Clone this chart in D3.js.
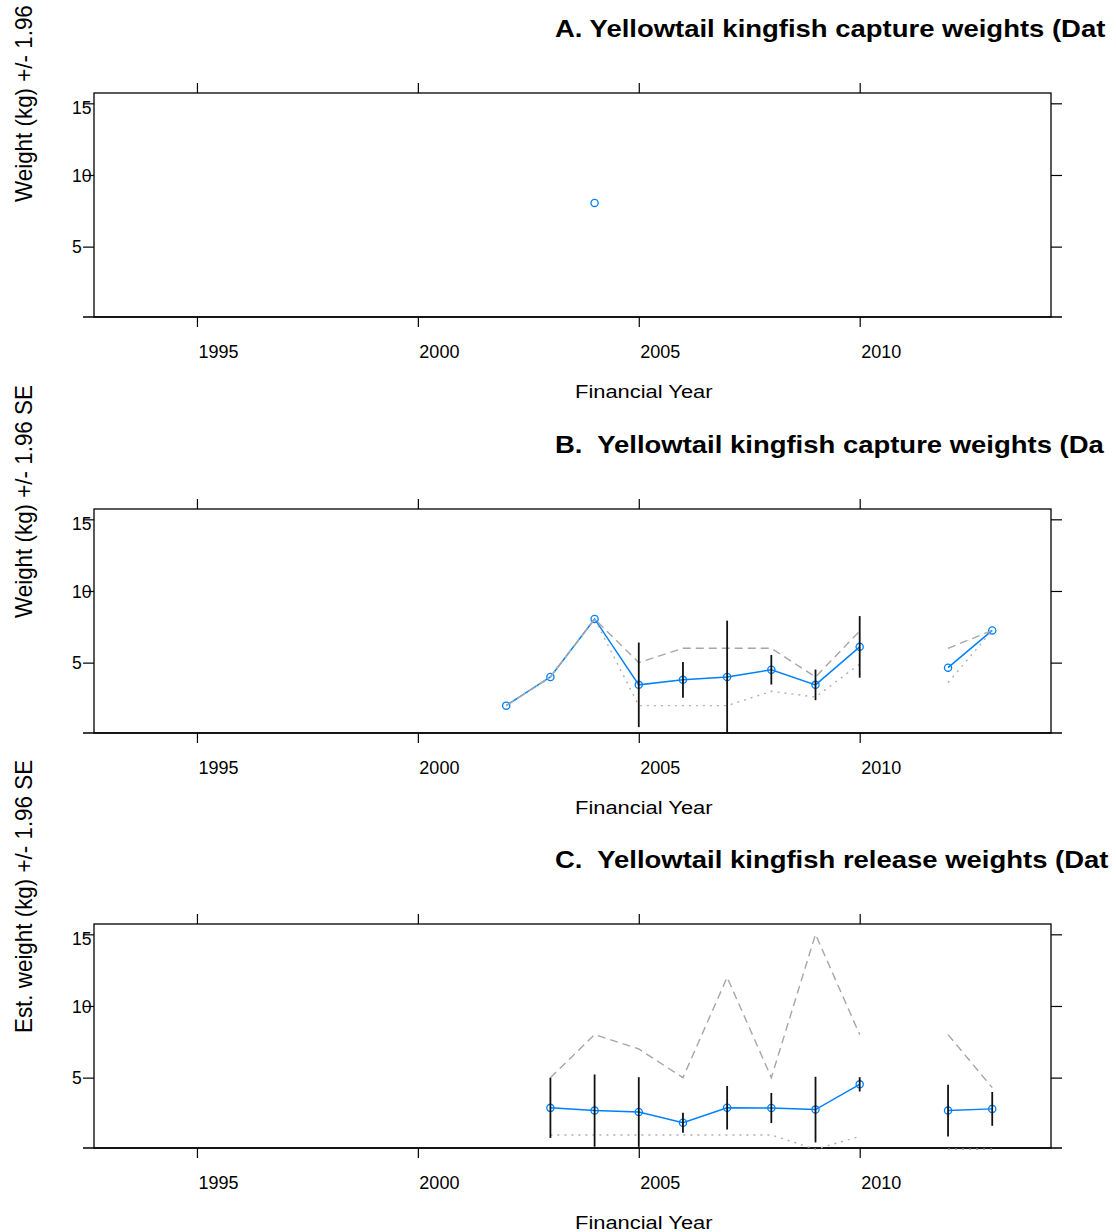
<!DOCTYPE html>
<html><head><meta charset="utf-8">
<script src="https://cdn.jsdelivr.net/npm/d3@7"></script>
<style>
body{margin:0;background:#fff}
svg{display:block}
text{font-family:"Liberation Sans", Arial, sans-serif; fill:#000}
</style></head><body>
<svg id="chart" width="1116" height="1232"></svg>
<script>
// ---- text ----
const titles = [
  "A. Yellowtail kingfish capture weights (Dat",
  "B.  Yellowtail kingfish capture weights (Da",
  "C.  Yellowtail kingfish release weights (Dat"
];
const yLabels = [
  "Weight (kg) +/- 1.96",
  "Weight (kg) +/- 1.96 SE",
  "Est. weight (kg) +/- 1.96 SE"
];
const xLabel = "Financial Year";
const xTicks = [1995, 2000, 2005, 2010];
const yTicks = [5, 10, 15];

// ---- panel A ----
const yearsA = [2004];
const meanA  = [8.05];

// ---- panel B ----
const yearsB = [2002, 2003, 2004, 2005, 2006, 2007, 2008, 2009, 2010, 2011, 2012, 2013];
const meanB  = [2.0, 4.0, 8.05, 3.45, 3.8, 4.0, 4.5, 3.45, 6.1, null, 4.65, 7.25];
const ciB    = [null, null, null, 2.95, 1.25, 3.93, 1.03, 1.07, 2.15, null, null, null];
const upperB = [2.0, 4.0, 8.05, 5.0, 6.0, 6.0, 6.0, 4.0, 7.2, null, 6.0, 7.25];
const lowerB = [2.0, 4.0, 8.05, 2.0, 2.0, 2.0, 3.0, 2.6, 4.9, null, 3.6, 7.25];

// ---- panel C ----
const yearsC = [2003, 2004, 2005, 2006, 2007, 2008, 2009, 2010, 2011, 2012, 2013];
const meanC  = [2.89, 2.7, 2.6, 1.85, 2.9, 2.88, 2.77, 4.53, null, 2.7, 2.82];
const ciC    = [2.1, 2.52, 2.43, 0.7, 1.52, 1.05, 2.29, 0.5, null, 1.8, 1.18];
const upperC = [5, 8, 7, 5, 12, 5, 15, 8, null, 8, 4.3];
const lowerC = [1, 1, 1, 1, 1, 1, 0, 0.9, null, 0, 0];

const panels = [
  {years: yearsA, mean: meanA, ci: null, upper: null, lower: null},
  {years: yearsB, mean: meanB, ci: ciB, upper: upperB, lower: lowerB},
  {years: yearsC, mean: meanC, ci: ciC, upper: upperC, lower: lowerC}
];

const svg = d3.select("#chart");
const boxL = 94, boxR = 1051, boxH = 224;
const panelTops = [93, 509, 924];
const BLUE = "#0080ff";

const x = d3.scaleLinear().domain([1992.67, 2014.33]).range([boxL, boxR]);

function styleAxis(g) {
  g.select(".domain").remove();
  g.selectAll(".tick line").attr("stroke", "#000").attr("stroke-width", 1.2);
  g.attr("font-family", null).attr("font-size", null);
}

panels.forEach((p, i) => {
  const T = panelTops[i];
  const y = d3.scaleLinear().domain([0.09, 15.72]).range([T + boxH, T]);
  const g = svg.append("g");

  // title
  g.append("text")
    .attr("transform", `translate(555,${T - 56.3}) scale(1.145,1)`)
    .attr("font-size", 24).attr("font-weight", "bold")
    .style("white-space", "pre")
    .text(titles[i]);

  // y label
  g.append("text")
    .attr("transform", `translate(31.7,${T + 109}) scale(1.1,1) rotate(-90)`)
    .attr("font-size", 22.4)
    .text(yLabels[i]);

  // x label
  g.append("text")
    .attr("transform", `translate(575,${T + 304.7}) scale(1.147,1)`)
    .attr("font-size", 19.1)
    .text(xLabel);

  // box
  g.append("rect")
    .attr("x", boxL).attr("y", T).attr("width", boxR - boxL).attr("height", boxH)
    .attr("fill", "none").attr("stroke", "#000").attr("stroke-width", 1.3);
  g.append("line")
    .attr("x1", 83).attr("x2", 1062).attr("y1", T + boxH).attr("y2", T + boxH)
    .attr("stroke", "#000").attr("stroke-width", 1.3);

  // axes
  const bottom = g.append("g").attr("transform", `translate(0,${T + boxH})`)
    .call(d3.axisBottom(x).tickValues(xTicks).tickSize(10).tickFormat(d3.format("d")));
  styleAxis(bottom);
  bottom.selectAll("text").attr("text-anchor", "start").attr("x", 1).attr("y", 41).attr("dy", 0)
    .attr("font-size", 18).attr("fill", "#000");

  const top = g.append("g").attr("transform", `translate(0,${T})`)
    .call(d3.axisTop(x).tickValues(xTicks).tickSize(10).tickFormat(""));
  styleAxis(top);

  const left = g.append("g").attr("transform", `translate(${boxL},0)`)
    .call(d3.axisLeft(y).tickValues(yTicks).tickSize(11).tickFormat(d3.format("d")));
  styleAxis(left);
  left.selectAll(".tick text")
    .attr("text-anchor", "start").attr("x", 72 - boxL).attr("dy", "0.35em")
    .attr("y", d => Math.max(0, (T + 14) - y(d)))
    .attr("font-size", 17.5).attr("fill", "#000");

  const right = g.append("g").attr("transform", `translate(${boxR},0)`)
    .call(d3.axisRight(y).tickValues(yTicks).tickSize(11).tickFormat(""));
  styleAxis(right);

  // data
  const rows = p.years.map((yr, k) => ({
    yr, m: p.mean[k],
    ci: p.ci ? p.ci[k] : null,
    up: p.upper ? p.upper[k] : null,
    lo: p.lower ? p.lower[k] : null
  }));

  const lineOf = key => d3.line().defined(d => d[key] != null).x(d => x(d.yr)).y(d => y(d[key]));

  g.append("path").datum(rows).attr("d", lineOf("m"))
    .attr("fill", "none").attr("stroke", BLUE).attr("stroke-width", 1.5);

  g.selectAll("circle.pt").data(rows.filter(d => d.m != null)).join("circle")
    .attr("class", "pt").attr("cx", d => x(d.yr)).attr("cy", d => y(d.m)).attr("r", 3.6)
    .attr("fill", "none").attr("stroke", BLUE).attr("stroke-width", 1.3);

  if (p.upper) {
    g.append("path").datum(rows).attr("d", lineOf("up"))
      .attr("fill", "none").attr("stroke", "#a6a6a6").attr("stroke-width", 1.4)
      .attr("stroke-dasharray", "8,5");
  }
  if (p.lower) {
    g.append("path").datum(rows).attr("d", lineOf("lo"))
      .attr("fill", "none").attr("stroke", "#b0b0b0").attr("stroke-width", 1.4)
      .attr("stroke-dasharray", "2,5");
  }
  if (p.ci) {
    g.selectAll("line.err").data(rows.filter(d => d.ci != null && d.m != null)).join("line")
      .attr("class", "err")
      .attr("x1", d => x(d.yr)).attr("x2", d => x(d.yr))
      .attr("y1", d => y(d.m - d.ci)).attr("y2", d => y(d.m + d.ci))
      .attr("stroke", "#111").attr("stroke-width", 1.8);
  }
});
</script>
</body></html>
